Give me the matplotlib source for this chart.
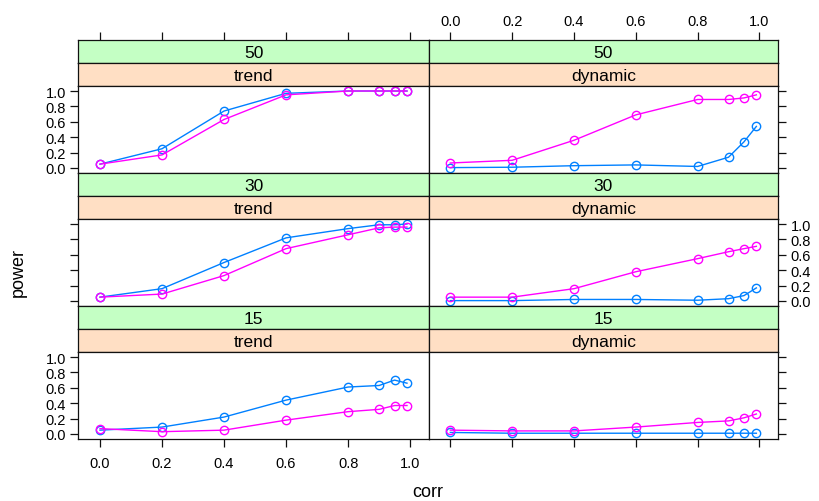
import matplotlib
matplotlib.use("Agg")
import matplotlib.pyplot as plt

plt.rcParams["font.family"] = ["Liberation Sans", "DejaVu Sans"]

corr = [0.0, 0.2, 0.4, 0.6, 0.8, 0.9, 0.95, 0.99]

# rows from top to bottom, columns left to right
sizes = ["50", "30", "15"]
kinds = ["trend", "dynamic"]

blue = {
    ("50", "trend"): [0.05, 0.25, 0.74, 0.97, 1.00, 1.00, 1.00, 1.00],
    ("50", "dynamic"): [0.005, 0.01, 0.03, 0.04, 0.02, 0.14, 0.34, 0.54],
    ("30", "trend"): [0.05, 0.16, 0.50, 0.82, 0.94, 0.99, 0.99, 1.00],
    ("30", "dynamic"): [0.005, 0.005, 0.02, 0.02, 0.01, 0.03, 0.07, 0.17],
    ("15", "trend"): [0.05, 0.09, 0.22, 0.44, 0.61, 0.63, 0.70, 0.66],
    ("15", "dynamic"): [0.02, 0.01, 0.01, 0.01, 0.01, 0.01, 0.01, 0.01],
}
magenta = {
    ("50", "trend"): [0.05, 0.17, 0.63, 0.95, 1.00, 1.00, 1.00, 1.00],
    ("50", "dynamic"): [0.065, 0.10, 0.36, 0.69, 0.89, 0.89, 0.91, 0.95],
    ("30", "trend"): [0.05, 0.09, 0.33, 0.68, 0.86, 0.95, 0.96, 0.96],
    ("30", "dynamic"): [0.05, 0.05, 0.16, 0.38, 0.55, 0.64, 0.68, 0.71],
    ("15", "trend"): [0.07, 0.03, 0.05, 0.18, 0.29, 0.32, 0.37, 0.37],
    ("15", "dynamic"): [0.05, 0.04, 0.04, 0.09, 0.15, 0.17, 0.21, 0.26],
}

ticks = [0.0, 0.2, 0.4, 0.6, 0.8, 1.0]
tick_labels = ["0.0", "0.2", "0.4", "0.6", "0.8", "1.0"]

W, H = 819, 502
fig = plt.figure(figsize=(W / 100, H / 100), dpi=100)


def box(x0, y0, x1, y1):
    return [x0 / W, 1 - y1 / H, (x1 - x0) / W, (y1 - y0) / H]


col_x = [(78.3, 428.7), (428.7, 778.0)]
xlim = (-0.07, 1.06)
ylim = (-0.065, 1.065)
frame = "#111111"

for r, size in enumerate(sizes):
    top = 41 + r * 133
    for c, kind in enumerate(kinds):
        x0, x1 = col_x[c]

        # strips
        for k, (label, color) in enumerate([(size, "#c4ffc4"), (kind, "#ffdfc4")]):
            s = fig.add_axes(box(x0, top + 23 * k, x1, top + 23 * (k + 1)))
            s.set_facecolor(color)
            s.set_xlim(xlim)
            s.set_yticks([])
            s.set_xticks([])
            for sp in s.spines.values():
                sp.set_color(frame)
                sp.set_linewidth(0.9)
            s.text(0.5, 0.45, label, transform=s.transAxes, ha="center",
                   va="center", fontsize=12.5)
            if r == 0 and k == 0:
                s.set_xticks(ticks)
                s.tick_params(axis="x", top=True, bottom=False,
                              labeltop=(c == 1), labelbottom=False,
                              length=6, width=0.9, color=frame,
                              labelsize=10.5, pad=3)
                s.set_xticklabels(tick_labels)

        ax = fig.add_axes(box(x0, top + 46, x1, top + 133))
        ax.plot(corr, blue[(size, kind)], color="#0080ff", lw=1.0,
                marker="o", mfc="none", ms=6, mew=1.0)
        ax.plot(corr, magenta[(size, kind)], color="#ff00ff", lw=1.0,
                marker="o", mfc="none", ms=6, mew=1.0)
        ax.set_xlim(xlim)
        ax.set_ylim(ylim)
        for sp in ax.spines.values():
            sp.set_color(frame)
            sp.set_linewidth(0.9)

        ax.set_yticks(ticks)
        ax.set_yticklabels(tick_labels)
        if c == 0:
            ylab = (r != 1)
            ax.tick_params(axis="y", left=True, right=False, labelleft=ylab,
                           labelright=False)
        else:
            ylab = (r == 1)
            ax.tick_params(axis="y", left=False, right=True, labelleft=False,
                           labelright=ylab)
        ax.tick_params(axis="y", length=6, width=0.9, color=frame,
                       labelsize=10.5, pad=3)

        if r == 2:
            ax.set_xticks(ticks)
            ax.set_xticklabels(tick_labels)
            ax.tick_params(axis="x", bottom=True, labelbottom=(c == 0),
                           length=6, width=0.9, color=frame, labelsize=10.5,
                           pad=6)
        else:
            ax.set_xticks([])

fig.text(428 / W, 1 - 493 / H, "corr", ha="center", va="center", fontsize=13)
fig.text(18 / W, 1 - 273 / H, "power", ha="center", va="center",
         rotation=90, fontsize=13)

fig.savefig("out.png", dpi=100)
